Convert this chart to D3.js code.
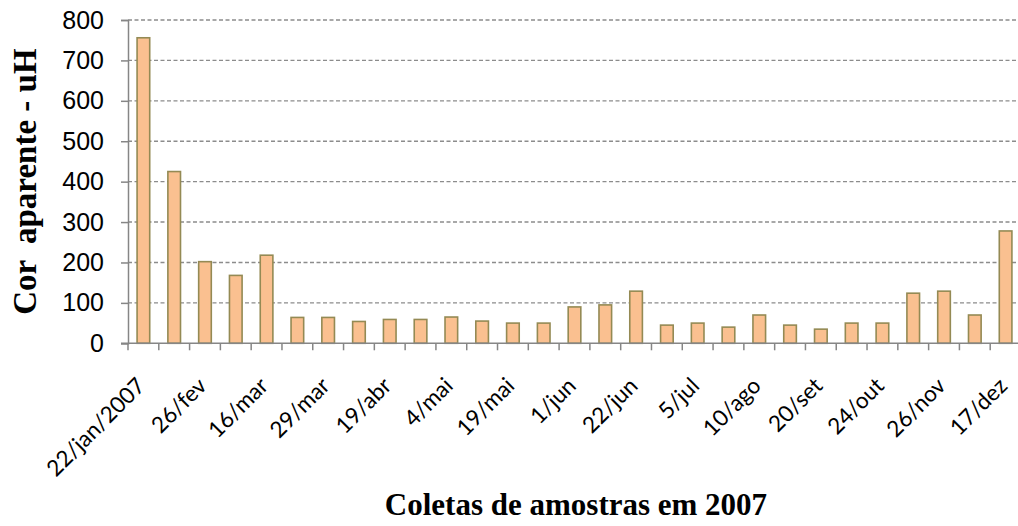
<!DOCTYPE html>
<html>
<head>
<meta charset="utf-8">
<script src="https://cdn.jsdelivr.net/npm/d3@7"></script>
<style>
  body { margin: 0; background: #fff; }
  svg { display: block; }
</style>
</head>
<body>
<div id="chart"></div>
<script>
// one value per sample, 29 collections in 2007
const values = [756, 425, 202, 168, 218, 64, 64, 54, 59, 59, 65, 55, 50, 50, 90,
                95, 129, 45, 50, 40, 70, 45, 35, 50, 50, 124, 129, 70, 278];
// only every other collection is labelled on the axis
const tickLabels = ["22/jan/2007", "", "26/fev", "", "16/mar", "", "29/mar", "", "19/abr", "",
                    "4/mai", "", "19/mai", "", "1/jun", "", "22/jun", "", "5/jul", "",
                    "10/ago", "", "20/set", "", "24/out", "", "26/nov", "", "17/dez"];
const yTicks = [0, 100, 200, 300, 400, 500, 600, 700, 800];

const width = 1018, height = 526;
const plotLeft = 128, plotRight = 1021, plotTop = 20, plotBottom = 343.3;

const svg = d3.select("#chart").append("svg")
    .attr("width", width)
    .attr("height", height);

const x = d3.scaleBand()
    .domain(d3.range(values.length))
    .range([plotLeft, plotRight])
    .paddingInner(0.59)
    .paddingOuter(0.295);

const y = d3.scaleLinear()
    .domain([0, 800])
    .range([plotBottom, plotTop]);

// dashed grid
svg.append("g")
    .selectAll("line")
    .data(yTicks.filter(d => d > 0))
    .join("line")
    .attr("x1", plotLeft)
    .attr("x2", width)
    .attr("y1", d => y(d))
    .attr("y2", d => y(d))
    .attr("stroke", "#8c8c8c")
    .attr("stroke-width", 1.4)
    .attr("stroke-dasharray", "4,2.5");

// bars
svg.append("g")
    .selectAll("rect")
    .data(values)
    .join("rect")
    .attr("x", (d, i) => x(i))
    .attr("y", d => y(d))
    .attr("width", x.bandwidth())
    .attr("height", d => y(0) - y(d))
    .attr("fill", "#fac090")
    .attr("stroke", "#948a54")
    .attr("stroke-width", 1.6);

// y axis
let yAxis = svg.append("g")
    .attr("transform", `translate(${plotLeft},0)`)
    .call(d3.axisLeft(y).tickValues(yTicks).tickSize(7).tickPadding(17));
yAxis.select(".domain").attr("stroke", "#868686").attr("stroke-width", 1.5);
yAxis.selectAll(".tick line").attr("stroke", "#868686").attr("stroke-width", 1.5);
yAxis.selectAll(".tick text")
    .attr("font-family", "'Liberation Sans', Arial, sans-serif")
    .attr("font-size", 25)
    .attr("fill", "#000");

// x axis: ticks at category boundaries
const step = x.step();
const bounds = d3.range(values.length + 1).map(i => plotLeft + i * step);
let xAxis = svg.append("g");
xAxis.append("line")
    .attr("x1", plotLeft - 7)
    .attr("x2", width)
    .attr("y1", plotBottom)
    .attr("y2", plotBottom)
    .attr("stroke", "#868686")
    .attr("stroke-width", 1.5);
xAxis.selectAll("line.tick")
    .data(bounds)
    .join("line")
    .classed("tick", true)
    .attr("x1", d => d)
    .attr("x2", d => d)
    .attr("y1", plotBottom)
    .attr("y2", plotBottom + 7)
    .attr("stroke", "#868686")
    .attr("stroke-width", 1.5);

xAxis.selectAll("text")
    .data(tickLabels)
    .join("text")
    .attr("transform", (d, i) => `translate(${x(i) + x.bandwidth() / 2 + 3},${plotBottom + 44}) rotate(-45)`)
    .attr("text-anchor", "end")
    .attr("font-family", "Lato, 'Open Sans', sans-serif")
    .attr("font-size", 22.5)
    .attr("fill", "#000")
    .text(d => d);

// axis titles
svg.append("text")
    .attr("transform", `translate(36,${(plotTop + plotBottom) / 2}) rotate(-90)`)
    .attr("text-anchor", "middle")
    .attr("font-family", "'Liberation Serif', 'Times New Roman', serif")
    .attr("font-weight", "bold")
    .attr("font-size", 33)
    .style("white-space", "pre")
    .text("Cor  aparente - uH");

svg.append("text")
    .attr("x", 576)
    .attr("y", 515)
    .attr("text-anchor", "middle")
    .attr("font-family", "'Liberation Serif', 'Times New Roman', serif")
    .attr("font-weight", "bold")
    .attr("font-size", 31)
    .text("Coletas de amostras em 2007");
</script>
</body>
</html>
